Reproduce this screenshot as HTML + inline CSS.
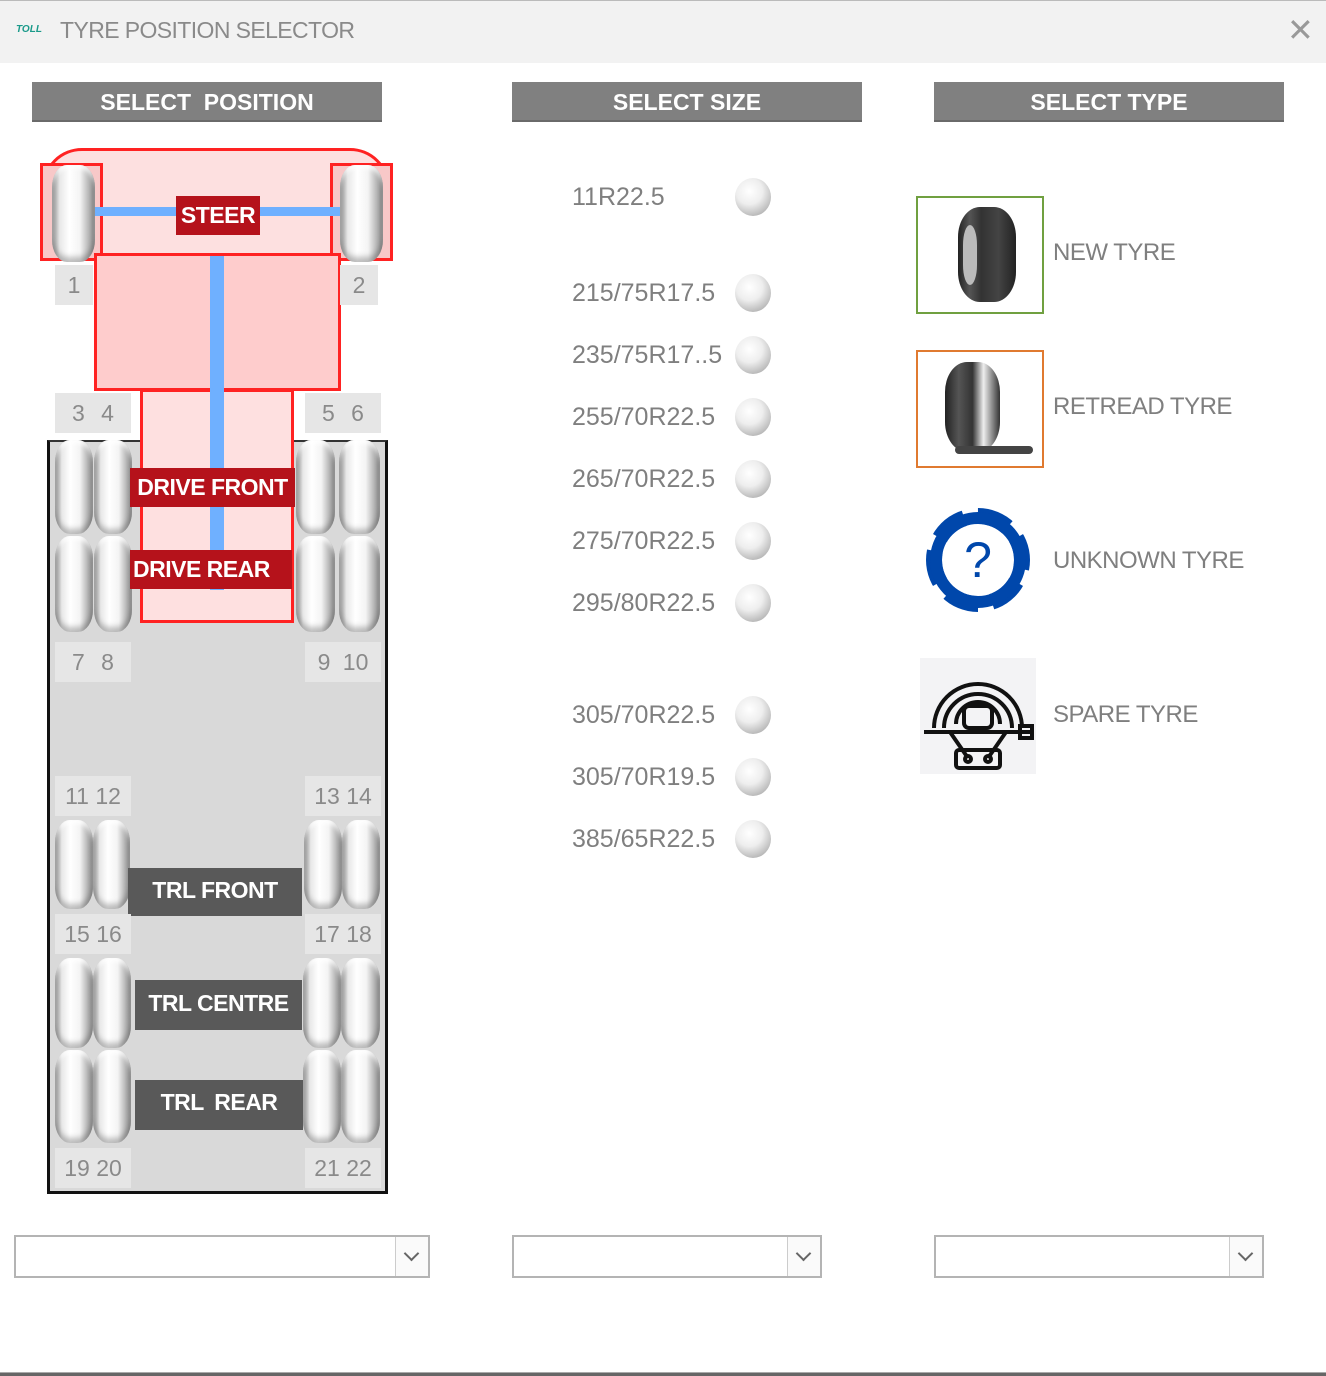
<!DOCTYPE html>
<html><head><meta charset="utf-8">
<style>
*{margin:0;padding:0;box-sizing:border-box}
body{width:1326px;height:1376px;position:relative;background:#fff;font-family:"Liberation Sans",sans-serif;overflow:hidden}
.a{position:absolute}
.hdr{position:absolute;top:82px;height:40px;width:350px;background:#808080;color:#fff;font-weight:bold;font-size:23px;text-align:center;line-height:40px;border-bottom:2px solid #6a6a6a}
.t{position:absolute;border-radius:15px/22px;background:linear-gradient(90deg,#8c8c8c 0%,#e8e8e8 18%,#fff 40%,#f4f4f4 65%,#a8a8a8 90%,#6e6e6e 100%);box-shadow:inset 0 -5px 6px rgba(0,0,0,.25),inset 0 4px 4px rgba(255,255,255,.8)}
.n{position:absolute;background:#e6e6e6;color:#8a8a8a;font-size:23px;line-height:40px;height:40px;text-align:center}
.lab{position:absolute;color:#fff;font-weight:bold;font-size:23px;text-align:center;white-space:nowrap;letter-spacing:-0.5px}
.red{background:#b5121b}
.dk{background:#595959}
.sz{position:absolute;left:572px;color:#7f7f7f;font-size:25px;letter-spacing:0px;line-height:30px}
.rb{position:absolute;left:735px;width:36px;height:38px;border-radius:50%;background:radial-gradient(circle at 40% 35%,#fff 0%,#eee 40%,#bbb 75%,#777 100%)}
.ty{position:absolute;left:1053px;color:#7f7f7f;font-size:24px;letter-spacing:-0.5px;line-height:30px}
.dd{position:absolute;top:1235px;height:43px;border:2px solid #b4b4b4;background:#fff}
.dd i{position:absolute;right:0;top:0;width:33px;height:39px;border-left:1px solid #ccc;background:#fafafa}
.dd i:after{content:"";position:absolute;left:10px;top:11px;width:9px;height:9px;border-right:2px solid #666;border-bottom:2px solid #666;transform:rotate(45deg)}
</style></head><body>
<div class="a" style="left:0;top:0;width:1326px;height:63px;background:#f2f2f2;border-top:1px solid #bbb"></div>
<div class="a" style="left:16px;top:24px;color:#1a9a8a;font-size:10px;font-weight:bold;font-style:italic">TOLL</div>
<div class="a" style="left:60px;top:17px;color:#8a8a8a;font-size:23px;letter-spacing:-0.6px">TYRE POSITION SELECTOR</div>
<div class="a" style="left:1287px;top:15px;color:#999;font-size:32px;line-height:30px">✕</div>

<div class="hdr" style="left:32px">SELECT&nbsp; POSITION</div>
<div class="hdr" style="left:512px">SELECT SIZE</div>
<div class="hdr" style="left:934px">SELECT TYPE</div>

<div class="a" style="left:47px;top:440px;width:341px;height:754px;background:#d9d9d9;border:3px solid #111;border-top:2px solid #333"></div>
<div class="a" style="left:42px;top:148px;width:348px;height:108px;background:#fde0e0;border:3px solid #f22;border-radius:40px 40px 0 0"></div>
<div class="a" style="left:40px;top:163px;width:63px;height:98px;background:#f8c8c8;border:3px solid #f22"></div>
<div class="a" style="left:330px;top:163px;width:63px;height:98px;background:#f8c8c8;border:3px solid #f22"></div>
<div class="a" style="left:94px;top:253px;width:247px;height:138px;background:#fecccc;border:3px solid #f22"></div>
<div class="a" style="left:140px;top:389px;width:154px;height:234px;background:#fee0e0;border:3px solid #f22"></div>
<div class="a" style="left:95px;top:207px;width:245px;height:9px;background:#6fb0ff"></div>
<div class="a" style="left:210px;top:256px;width:14px;height:334px;background:#6fb0ff"></div>

<div class="t" style="left:52px;top:165px;width:43px;height:97px"></div>
<div class="t" style="left:340px;top:165px;width:43px;height:97px"></div>
<div class="lab red" style="left:176px;top:196px;width:84px;height:39px;line-height:39px">STEER</div>

<div class="n" style="left:55px;top:265px;width:38px">1</div>
<div class="n" style="left:340px;top:265px;width:38px">2</div>
<div class="n" style="left:55px;top:393px;width:76px;word-spacing:10px">3 4</div>
<div class="n" style="left:305px;top:393px;width:76px;word-spacing:10px">5 6</div>

<div class="t" style="left:55px;top:440px;width:38px;height:94px"></div>
<div class="t" style="left:94px;top:440px;width:38px;height:94px"></div>
<div class="t" style="left:55px;top:536px;width:38px;height:96px"></div>
<div class="t" style="left:94px;top:536px;width:38px;height:96px"></div>
<div class="t" style="left:296px;top:440px;width:39px;height:94px"></div>
<div class="t" style="left:339px;top:440px;width:41px;height:94px"></div>
<div class="t" style="left:296px;top:536px;width:39px;height:96px"></div>
<div class="t" style="left:339px;top:536px;width:41px;height:96px"></div>
<div class="lab red" style="left:130px;top:468px;width:165px;height:39px;line-height:39px">DRIVE FRONT</div>
<div class="lab red" style="left:130px;top:550px;width:162px;height:39px;line-height:39px;text-align:left;padding-left:3px">DRIVE REAR</div>

<div class="n" style="left:55px;top:642px;width:76px;word-spacing:10px">7 8</div>
<div class="n" style="left:305px;top:642px;width:76px;word-spacing:6px">9 10</div>
<div class="n" style="left:55px;top:776px;width:76px">11 12</div>
<div class="n" style="left:305px;top:776px;width:76px">13 14</div>

<div class="t" style="left:55px;top:820px;width:38px;height:89px"></div>
<div class="t" style="left:93px;top:820px;width:37px;height:89px"></div>
<div class="t" style="left:304px;top:820px;width:38px;height:89px"></div>
<div class="t" style="left:342px;top:820px;width:38px;height:89px"></div>
<div class="lab dk" style="left:128px;top:868px;width:174px;height:48px;line-height:44px">TRL FRONT</div>

<div class="n" style="left:55px;top:914px;width:76px">15 16</div>
<div class="n" style="left:305px;top:914px;width:76px">17 18</div>

<div class="t" style="left:55px;top:958px;width:38px;height:90px"></div>
<div class="t" style="left:93px;top:958px;width:38px;height:90px"></div>
<div class="t" style="left:303px;top:958px;width:38px;height:90px"></div>
<div class="t" style="left:341px;top:958px;width:39px;height:90px"></div>
<div class="lab dk" style="left:135px;top:980px;width:167px;height:50px;line-height:46px">TRL CENTRE</div>

<div class="t" style="left:55px;top:1050px;width:38px;height:93px"></div>
<div class="t" style="left:93px;top:1050px;width:38px;height:93px"></div>
<div class="t" style="left:303px;top:1050px;width:38px;height:93px"></div>
<div class="t" style="left:341px;top:1050px;width:39px;height:93px"></div>
<div class="lab dk" style="left:135px;top:1080px;width:168px;height:50px;line-height:44px;word-spacing:5px">TRL REAR</div>

<div class="n" style="left:55px;top:1148px;width:76px">19 20</div>
<div class="n" style="left:305px;top:1148px;width:76px">21 22</div>

<div class="sz" style="top:182px">11R22.5</div><div class="rb" style="top:178px"></div>
<div class="sz" style="top:278px">215/75R17.5</div><div class="rb" style="top:274px"></div>
<div class="sz" style="top:340px">235/75R17..5</div><div class="rb" style="top:336px"></div>
<div class="sz" style="top:402px">255/70R22.5</div><div class="rb" style="top:398px"></div>
<div class="sz" style="top:464px">265/70R22.5</div><div class="rb" style="top:460px"></div>
<div class="sz" style="top:526px">275/70R22.5</div><div class="rb" style="top:522px"></div>
<div class="sz" style="top:588px">295/80R22.5</div><div class="rb" style="top:584px"></div>
<div class="sz" style="top:700px">305/70R22.5</div><div class="rb" style="top:696px"></div>
<div class="sz" style="top:762px">305/70R19.5</div><div class="rb" style="top:758px"></div>
<div class="sz" style="top:824px">385/65R22.5</div><div class="rb" style="top:820px"></div>

<div class="a" style="left:916px;top:196px;width:128px;height:118px;border:2px solid #70a040"></div>
<div class="a" style="left:958px;top:207px;width:58px;height:95px;border-radius:22px/30px;background:linear-gradient(90deg,#222,#555 20%,#333 40%,#444 70%,#222);"></div>
<div class="a" style="left:963px;top:225px;width:14px;height:60px;border-radius:7px/20px;background:#bbb"></div>
<div class="a" style="left:916px;top:350px;width:128px;height:118px;border:2px solid #e07a30"></div>
<div class="a" style="left:945px;top:362px;width:55px;height:90px;border-radius:22px/30px;background:linear-gradient(90deg,#222,#555 25%,#333 50%,#eee 70%,#333)"></div>
<div class="a" style="left:955px;top:446px;width:78px;height:8px;border-radius:4px;background:#444"></div>
<div class="a" style="left:926px;top:508px;width:104px;height:104px;border-radius:50%;border:16px dashed #0047ab;background:#fff"></div>
<div class="a" style="left:930px;top:512px;width:96px;height:96px;border-radius:50%;border:12px solid #0047ab"></div>
<div class="a" style="left:958px;top:532px;width:40px;text-align:center;color:#0047ab;font-size:50px;line-height:56px">?</div>
<div class="a" style="left:920px;top:658px;width:116px;height:116px;background:#f3f3f5"></div>
<svg class="a" style="left:920px;top:658px" width="116" height="116" viewBox="0 0 116 116" fill="none" stroke="#111" stroke-width="4">
<path d="M14 70 A44 44 0 0 1 102 70"/><path d="M24 70 A34 34 0 0 1 92 70"/><path d="M36 66 A22 22 0 0 1 80 66"/>
<rect x="44" y="48" width="28" height="22" rx="5"/><path d="M4 74 H112"/><rect x="100" y="68" width="12" height="12"/>
<path d="M30 74 L48 100 M86 74 L68 100"/><rect x="36" y="92" width="44" height="18" rx="3"/>
<circle cx="48" cy="101" r="3"/><circle cx="68" cy="101" r="3"/></svg>
<div class="ty" style="top:238px">NEW TYRE</div>
<div class="ty" style="top:392px">RETREAD TYRE</div>
<div class="ty" style="top:546px">UNKNOWN TYRE</div>
<div class="ty" style="top:700px">SPARE TYRE</div>

<div class="dd" style="left:14px;width:416px"><i></i></div>
<div class="dd" style="left:512px;width:310px"><i></i></div>
<div class="dd" style="left:934px;width:330px"><i></i></div>

<div class="a" style="left:0;top:1372px;width:1326px;height:4px;background:#666;border-top:1px solid #aaa"></div>
</body></html>
